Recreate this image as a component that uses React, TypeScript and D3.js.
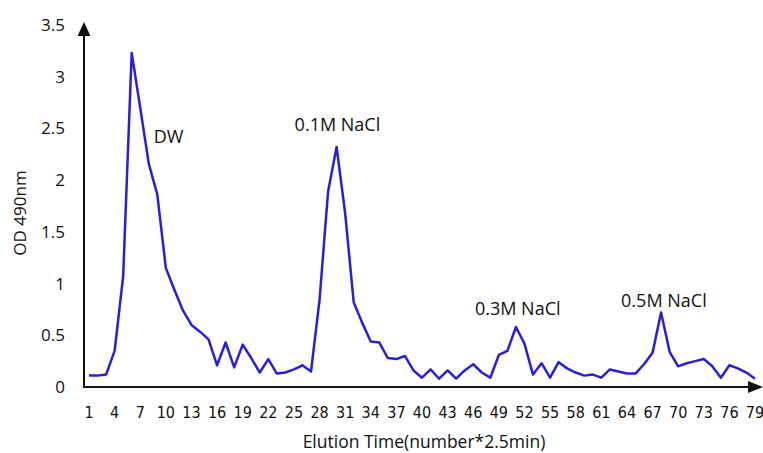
import React from "react";
import * as d3 from "d3";

// fraction numbers 1..79 (each = 2.5 min)
const fractions = d3.range(1, 80);
const od490 = [
  0.11, 0.11, 0.12, 0.35, 1.07, 3.23, 2.7, 2.16, 1.86, 1.15,
  0.94, 0.74, 0.6, 0.535, 0.46, 0.21, 0.43, 0.19, 0.41, 0.28,
  0.14, 0.27, 0.13, 0.14, 0.17, 0.21, 0.15, 0.84, 1.89, 2.32,
  1.68, 0.82, 0.62, 0.44, 0.43, 0.28, 0.27, 0.3, 0.16, 0.09,
  0.17, 0.08, 0.16, 0.08, 0.16, 0.22, 0.14, 0.09, 0.31, 0.35,
  0.58, 0.42, 0.12, 0.23, 0.09, 0.24, 0.18, 0.14, 0.11, 0.12,
  0.09, 0.17, 0.15, 0.13, 0.13, 0.22, 0.33, 0.72, 0.34, 0.2,
  0.23, 0.25, 0.27, 0.2, 0.09, 0.21, 0.18, 0.14, 0.08,
];
const xTicks = d3.range(1, 80, 3);
const yTicks = [0, 0.5, 1, 1.5, 2, 2.5, 3, 3.5];
const peakLabels = ["DW", "0.1M NaCl", "0.3M NaCl", "0.5M NaCl"];
const peakAt = [6, 30, 51, 68];

const W = 763;
const H = 453;
const font = "'Open Sans', sans-serif";
const tickFont = "'DejaVu Sans Condensed', 'Open Sans', sans-serif";

export default function App() {
  const x = d3.scaleLinear().domain([1, 79]).range([89, 755]);
  const y = d3.scaleLinear().domain([0, 3.5]).range([387, 25]);
  const axisX = 84;
  const axisY = 387;

  const line = d3
    .line<number>()
    .x((_, i) => x(fractions[i]))
    .y((d) => y(d));

  // label offsets relative to peak tops
  const labelDx = [22, -42, -41, -40];
  const labelDy = [90, -16, -12, -6];

  return (
    <svg
      width={W}
      height={H}
      style={{ position: "absolute", left: 0, top: 0, background: "#fff" }}
      fontFamily={font}
    >
      <path
        d={line(od490) || ""}
        fill="none"
        stroke="#2a1fd6"
        strokeWidth={2.5}
        strokeLinejoin="round"
      />

      {/* axes with arrow heads */}
      <line x1={axisX} y1={axisY} x2={axisX} y2={34} stroke="#111" strokeWidth={2} />
      <path d={`M${axisX - 6.5},36 L${axisX},22 L${axisX + 6.5},36 Z`} fill="#111" />
      <line x1={axisX - 1} y1={axisY} x2={750} y2={axisY} stroke="#111" strokeWidth={2} />
      <path d={`M748,${axisY - 6} L763,${axisY} L748,${axisY + 6} Z`} fill="#111" />

      {yTicks.map((t) => (
        <text key={t} x={65} y={y(t)} dy="0.35em" textAnchor="end" fontSize={17} fill="#111">
          {t}
        </text>
      ))}
      {xTicks.map((t) => (
        <text
          key={t}
          x={x(t)}
          y={418}
          textAnchor="middle"
          fontSize={16}
          fontFamily={tickFont}
          fill="#111"
        >
          {t}
        </text>
      ))}

      <text x={424} y={448} textAnchor="middle" fontSize={17.5} fill="#111">
        Elution Time(number*2.5min)
      </text>
      <text
        transform="translate(26,213) rotate(-90)"
        textAnchor="middle"
        fontSize={17}
        fill="#111"
      >
        OD 490nm
      </text>

      {peakLabels.map((lab, i) => (
        <text
          key={lab}
          x={x(peakAt[i]) + labelDx[i]}
          y={y(od490[peakAt[i] - 1]) + labelDy[i]}
          fontSize={18}
          fill="#111"
        >
          {lab}
        </text>
      ))}
    </svg>
  );
}
